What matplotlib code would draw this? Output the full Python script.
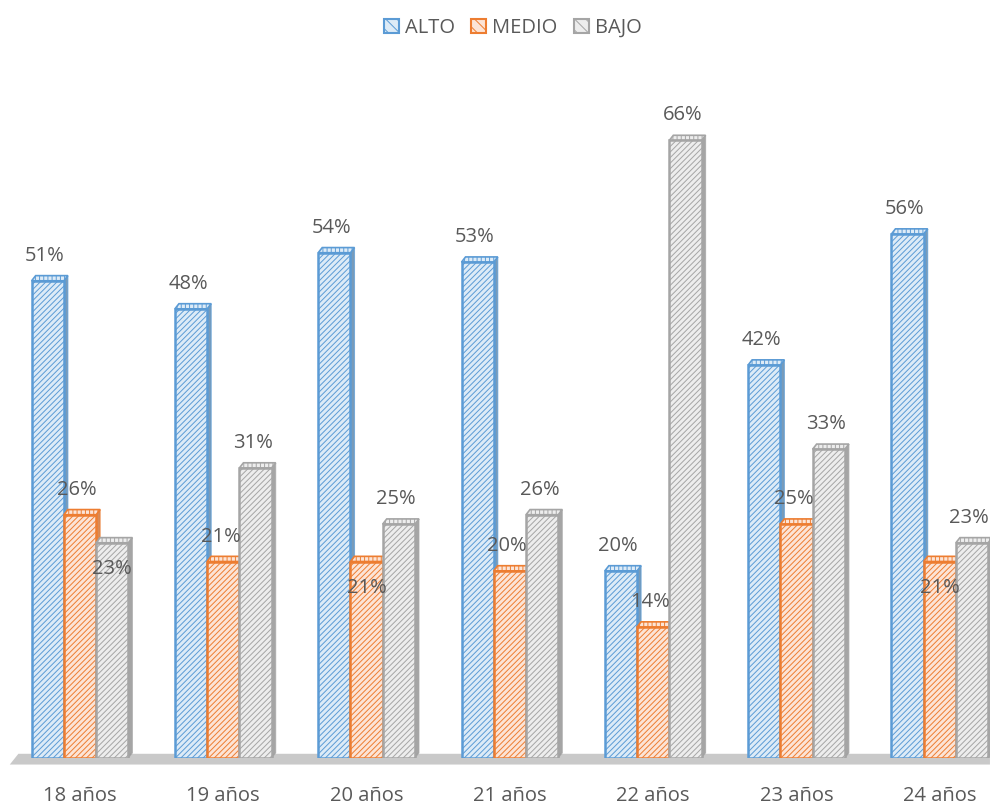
import matplotlib.pyplot as plt
from matplotlib.patches import Patch, Polygon
import numpy as np

categories = ['18 años', '19 años', '20 años', '21 años', '22 años', '23 años', '24 años']
series_names = ['ALTO', 'MEDIO', 'BAJO']
alto = [51, 48, 54, 53, 20, 42, 56]
medio = [26, 21, 21, 20, 14, 25, 21]
bajo = [23, 31, 25, 26, 66, 33, 23]

# labels that Excel placed inside / below the bar top: (series, category)
below = {(2, 0), (1, 2), (1, 6)}

edge_cols = ['#5B9BD5', '#ED7D31', '#A5A5A5']
face_cols = ['#DDEBF7', '#FCE4D6', '#EDEDED']
side_cols = ['#41719C', '#C55A11', '#7F7F7F']
text_col = '#595959'
fs = 14.5

plt.rcParams['font.family'] = ['Open Sans', 'DejaVu Sans']
plt.rcParams['hatch.linewidth'] = 0.7

fig = plt.figure(figsize=(9.9, 8.05), dpi=100)
ax = fig.add_axes([0, 1 - 758 / 805, 1, 655 / 805])

x = np.arange(len(categories))
w = 0.225
dx, dy = 0.028, 0.55

ax.set_xlim(-80 / 143.3, (990 - 80) / 143.3)
ax.set_ylim(0, 70)

# floor
floor = Polygon([(-0.49, -0.7), (-0.43, 0.45), (6.35, 0.45), (6.35, -0.7)],
                closed=True, facecolor='#C9C9C9', edgecolor='none', zorder=1,
                clip_on=False)
ax.add_patch(floor)

data = [alto, medio, bajo]
for s, vals in enumerate(data):
    xs = x + (s - 1) * w
    for i, (xc, v) in enumerate(zip(xs, vals)):
        x0, x1 = xc - w / 2, xc + w / 2
        # side face and top cap for a light 3D look
        ax.add_patch(Polygon([(x1, 0), (x1 + dx, dy), (x1 + dx, v + dy), (x1, v)],
                             closed=True, facecolor=side_cols[s], edgecolor=edge_cols[s],
                             lw=0.8, alpha=0.7, zorder=2 + s))
        ax.add_patch(Polygon([(x0, v), (x0 + dx, v + dy), (x1 + dx, v + dy), (x1, v)],
                             closed=True, facecolor=face_cols[s], edgecolor=edge_cols[s],
                             lw=1.2, hatch='||||', zorder=2 + s))
    ax.bar(xs, vals, width=w, color=face_cols[s], edgecolor=edge_cols[s],
           hatch='//////', lw=0, zorder=3 + s)
    ax.bar(xs, vals, width=w, facecolor='none', edgecolor=edge_cols[s],
           lw=1.8, zorder=3 + s)
    for i, (xc, v) in enumerate(zip(xs, vals)):
        if (s, i) in below:
            ax.annotate(f'{v}%', (xc, v), xytext=(0, -19), textcoords='offset points',
                        ha='center', va='center', fontsize=fs, color=text_col, zorder=10)
        else:
            ax.annotate(f'{v}%', (xc, v), xytext=(-2, 18), textcoords='offset points',
                        ha='center', va='center', fontsize=fs, color=text_col, zorder=10)

ax.set_xticks(x)
ax.set_xticklabels(categories, fontsize=fs, color=text_col)
ax.tick_params(axis='x', length=0, pad=20)
ax.set_yticks([])
for sp in ax.spines.values():
    sp.set_visible(False)

handles = [Patch(facecolor=face_cols[s], edgecolor=edge_cols[s], hatch='\\\\\\', lw=1.5)
           for s in range(3)]
fig.legend(handles, series_names, loc='upper center', bbox_to_anchor=(0.518, 1.0), ncol=3,
           frameon=False, fontsize=fs, handlelength=0.75, handleheight=0.75,
           handletextpad=0.3, columnspacing=0.8, labelcolor=text_col)

fig.savefig('out.png', dpi=100)
